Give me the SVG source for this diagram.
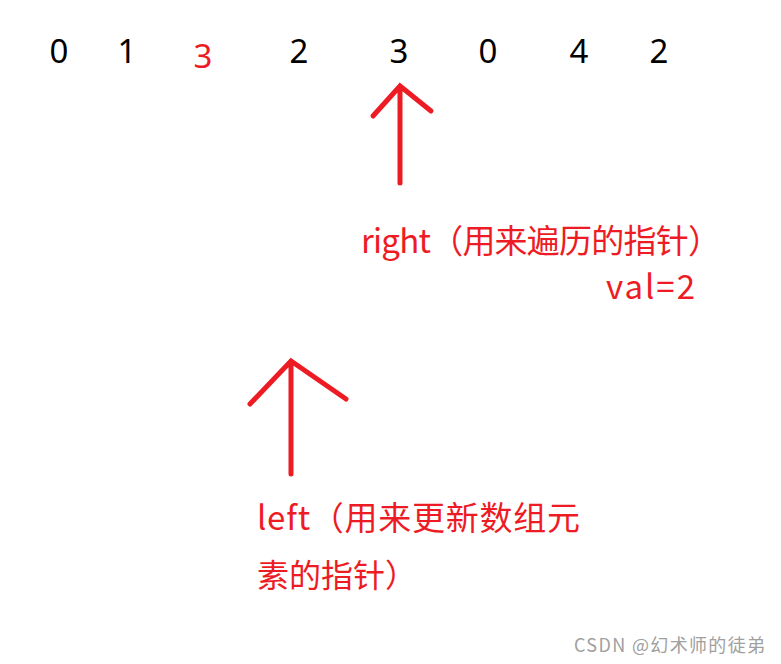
<svg xmlns="http://www.w3.org/2000/svg" width="781" height="664" viewBox="0 0 781 664">
<style>
.num{font-family:"Noto Sans","Noto Sans CJK SC",sans-serif;font-size:33px;fill:#000;text-anchor:middle}
.red{fill:#ed1c24}
.lbl{font-family:"Noto Sans CJK SC","Noto Sans",sans-serif;font-size:33px;fill:#ed1c24}
.arr{stroke:#ed1c24;stroke-width:5;stroke-linecap:round;fill:none}
.wm{font-family:"Noto Sans CJK SC","Noto Sans",sans-serif;font-size:18px;fill:#a0a0a0}
</style>
<rect width="781" height="664" fill="#fff"/>
<g id="array">
<text class="num" x="59" y="63">0</text>
<text class="num" x="127" y="63">1</text>
<text class="num red" x="203" y="68">3</text>
<text class="num" x="299" y="63">2</text>
<text class="num" x="399" y="63">3</text>
<text class="num" x="488" y="63">0</text>
<text class="num" x="579" y="63">4</text>
<text class="num" x="659" y="63">2</text>
</g>
<g id="connectors">
<path class="arr" d="M400,183 V86 M373,116 L400,86 L431,111"/>
<path class="arr" d="M291,474 V361 M250,404 L291,361 L346,399"/>
</g>
<g id="right-label">
<text class="lbl" x="361" y="253" textLength="360">right（用来遍历的指针）</text>
<text class="lbl" x="606" y="299" textLength="89">val=2</text>
</g>
<g id="left-label">
<text class="lbl" x="257" y="530" textLength="323">left（用来更新数组元</text>
<text class="lbl" x="257" y="587" style="font-size:32px">素的指针）</text>
</g>
<text class="wm" x="574" y="652" textLength="191">CSDN @幻术师的徒弟</text>
</svg>
